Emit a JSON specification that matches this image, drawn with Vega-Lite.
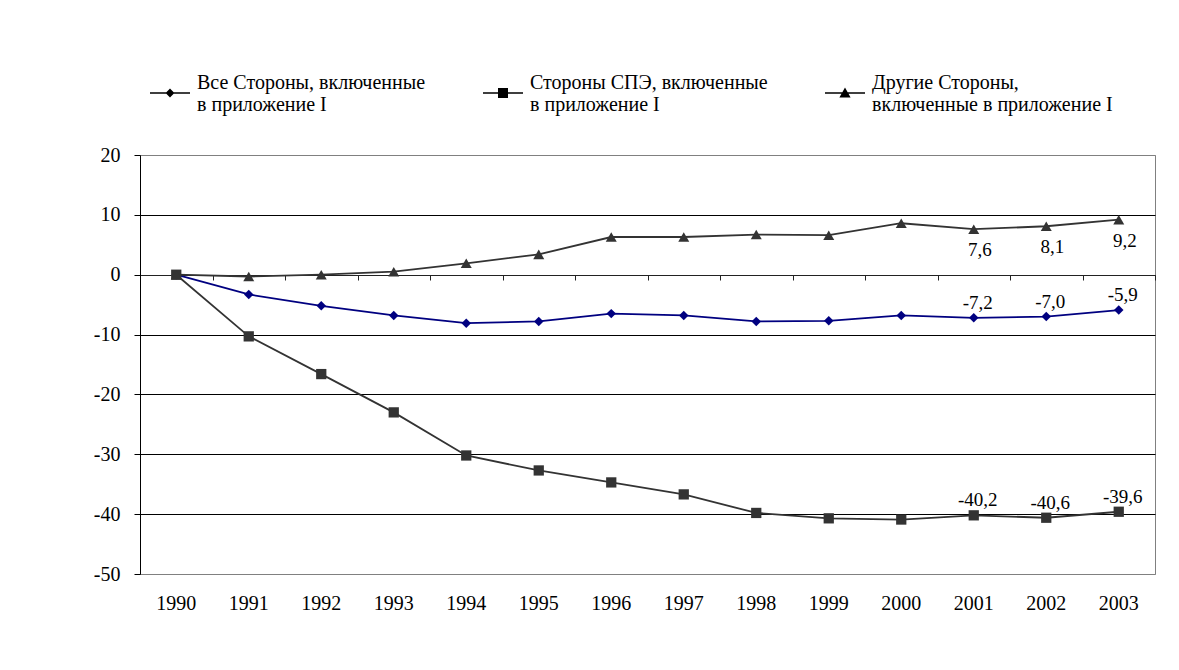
{
  "$schema": "https://vega.github.io/schema/vega-lite/v6.json",
  "width": 1015,
  "height": 419,
  "autosize": {"type": "none"},
  "padding": {"left": 140, "top": 155, "right": 24, "bottom": 96},
  "background": "white",
  "config": {
    "font": "Liberation Serif",
    "view": {"stroke": "#808080", "strokeWidth": 1},
    "axis": {"labelFont": "Liberation Serif"},
    "legend": {
      "orient": "none",
      "legendX": 10,
      "legendY": -92,
      "direction": "horizontal",
      "columns": 3,
      "columnPadding": 57,
      "symbolSize": 1600,
      "symbolStrokeWidth": 0,
      "labelFont": "Liberation Serif",
      "labelFontSize": 20,
      "labelColor": "#000",
      "labelLimit": 400,
      "labelOffset": 7,
      "labelBaseline": "middle",
      "padding": 0
    }
  },
  "data": {
    "values": [
      {"year": 1990, "series": "Все Стороны, включенные в приложение I", "value": 0},
      {"year": 1991, "series": "Все Стороны, включенные в приложение I", "value": -3.3},
      {"year": 1992, "series": "Все Стороны, включенные в приложение I", "value": -5.2},
      {"year": 1993, "series": "Все Стороны, включенные в приложение I", "value": -6.8},
      {"year": 1994, "series": "Все Стороны, включенные в приложение I", "value": -8.1},
      {"year": 1995, "series": "Все Стороны, включенные в приложение I", "value": -7.8},
      {"year": 1996, "series": "Все Стороны, включенные в приложение I", "value": -6.5},
      {"year": 1997, "series": "Все Стороны, включенные в приложение I", "value": -6.8},
      {"year": 1998, "series": "Все Стороны, включенные в приложение I", "value": -7.8},
      {"year": 1999, "series": "Все Стороны, включенные в приложение I", "value": -7.7},
      {"year": 2000, "series": "Все Стороны, включенные в приложение I", "value": -6.8},
      {"year": 2001, "series": "Все Стороны, включенные в приложение I", "value": -7.2, "label": "-7,2"},
      {"year": 2002, "series": "Все Стороны, включенные в приложение I", "value": -7.0, "label": "-7,0"},
      {"year": 2003, "series": "Все Стороны, включенные в приложение I", "value": -5.9, "label": "-5,9"},
      {"year": 1990, "series": "Стороны СПЭ, включенные в приложение I", "value": 0},
      {"year": 1991, "series": "Стороны СПЭ, включенные в приложение I", "value": -10.3},
      {"year": 1992, "series": "Стороны СПЭ, включенные в приложение I", "value": -16.6},
      {"year": 1993, "series": "Стороны СПЭ, включенные в приложение I", "value": -23.0},
      {"year": 1994, "series": "Стороны СПЭ, включенные в приложение I", "value": -30.2},
      {"year": 1995, "series": "Стороны СПЭ, включенные в приложение I", "value": -32.7},
      {"year": 1996, "series": "Стороны СПЭ, включенные в приложение I", "value": -34.7},
      {"year": 1997, "series": "Стороны СПЭ, включенные в приложение I", "value": -36.7},
      {"year": 1998, "series": "Стороны СПЭ, включенные в приложение I", "value": -39.8},
      {"year": 1999, "series": "Стороны СПЭ, включенные в приложение I", "value": -40.7},
      {"year": 2000, "series": "Стороны СПЭ, включенные в приложение I", "value": -40.9},
      {"year": 2001, "series": "Стороны СПЭ, включенные в приложение I", "value": -40.2, "label": "-40,2"},
      {"year": 2002, "series": "Стороны СПЭ, включенные в приложение I", "value": -40.6, "label": "-40,6"},
      {"year": 2003, "series": "Стороны СПЭ, включенные в приложение I", "value": -39.6, "label": "-39,6"},
      {"year": 1990, "series": "Другие Стороны, включенные в приложение I", "value": 0},
      {"year": 1991, "series": "Другие Стороны, включенные в приложение I", "value": -0.3},
      {"year": 1992, "series": "Другие Стороны, включенные в приложение I", "value": 0.0},
      {"year": 1993, "series": "Другие Стороны, включенные в приложение I", "value": 0.5},
      {"year": 1994, "series": "Другие Стороны, включенные в приложение I", "value": 1.9},
      {"year": 1995, "series": "Другие Стороны, включенные в приложение I", "value": 3.4},
      {"year": 1996, "series": "Другие Стороны, включенные в приложение I", "value": 6.3},
      {"year": 1997, "series": "Другие Стороны, включенные в приложение I", "value": 6.3},
      {"year": 1998, "series": "Другие Стороны, включенные в приложение I", "value": 6.7},
      {"year": 1999, "series": "Другие Стороны, включенные в приложение I", "value": 6.6},
      {"year": 2000, "series": "Другие Стороны, включенные в приложение I", "value": 8.6},
      {"year": 2001, "series": "Другие Стороны, включенные в приложение I", "value": 7.6, "label": "7,6"},
      {"year": 2002, "series": "Другие Стороны, включенные в приложение I", "value": 8.1, "label": "8,1"},
      {"year": 2003, "series": "Другие Стороны, включенные в приложение I", "value": 9.2, "label": "9,2"}
    ]
  },
  "layer": [
    {
      "mark": {"type": "line", "strokeWidth": 1.8},
      "encoding": {
        "x": {
          "field": "year", "type": "ordinal",
          "scale": {"type": "band", "paddingInner": 0, "paddingOuter": 0},
          "axis": {
            "orient": "bottom", "offset": -299, "labels": false, "ticks": true,
            "tickBand": "extent", "tickSize": 5, "tickColor": "#222", "tickWidth": 1,
            "domain": true, "domainColor": "#222", "domainWidth": 1,
            "grid": false, "title": null
          }
        },
        "y": {
          "field": "value", "type": "quantitative",
          "scale": {"domain": [-50, 20], "nice": false, "zero": false},
          "axis": {
            "values": [-50, -40, -30, -20, -10, 0, 10, 20],
            "labelExpr": "replace(datum.label, '\u2212', '-')",
            "grid": true,
            "gridColor": {"condition": {"test": "datum.value == 20 || datum.value == -50", "value": "#808080"}, "value": "#000000"},
            "gridWidth": 1,
            "domainColor": "#000", "tickColor": "#000", "tickSize": 6,
            "labelPadding": 14, "labelFontSize": 20, "labelColor": "#000",
            "labelFont": "Liberation Serif", "title": null
          }
        },
        "color": {
          "field": "series", "type": "nominal",
          "scale": {
            "domain": ["Все Стороны, включенные в приложение I", "Стороны СПЭ, включенные в приложение I", "Другие Стороны, включенные в приложение I"],
            "range": ["#000080", "#333333", "#333333"]
          },
          "legend": null
        }
      }
    },
    {
      "mark": {"type": "point", "filled": true, "opacity": 1},
      "encoding": {
        "x": {
          "field": "year", "type": "ordinal",
          "axis": {
            "orient": "bottom", "labels": true, "ticks": false, "domain": false,
            "grid": false, "labelFontSize": 20, "labelPadding": 19, "labelColor": "#000",
            "labelFont": "Liberation Serif", "labelAngle": 0, "title": null
          }
        },
        "y": {"field": "value", "type": "quantitative"},
        "color": {"field": "series", "type": "nominal", "legend": null},
        "shape": {
          "field": "series", "type": "nominal",
          "scale": {
            "domain": ["Все Стороны, включенные в приложение I", "Стороны СПЭ, включенные в приложение I", "Другие Стороны, включенные в приложение I"],
            "range": ["diamond", "square", "triangle-up"]
          },
          "legend": null
        },
        "size": {
          "field": "series", "type": "ordinal",
          "scale": {
            "domain": ["Все Стороны, включенные в приложение I", "Стороны СПЭ, включенные в приложение I", "Другие Стороны, включенные в приложение I"],
            "range": [90, 121, 130]
          },
          "legend": null
        }
      }
    },
    {
      "transform": [{"filter": "isValid(datum.label) && datum.series != 'Другие Стороны, включенные в приложение I'"}],
      "mark": {"type": "text", "dy": -15, "dx": 4, "fontSize": 19, "font": "Liberation Serif", "color": "#000", "baseline": "middle"},
      "encoding": {
        "x": {"field": "year", "type": "ordinal", "axis": null},
        "y": {"field": "value", "type": "quantitative"},
        "text": {"field": "label"}
      }
    },
    {
      "transform": [{"filter": "isValid(datum.label) && datum.series == 'Другие Стороны, включенные в приложение I'"}],
      "mark": {"type": "text", "dy": 21, "dx": 6, "fontSize": 19, "font": "Liberation Serif", "color": "#000", "baseline": "middle"},
      "encoding": {
        "x": {"field": "year", "type": "ordinal", "axis": null},
        "y": {"field": "value", "type": "quantitative"},
        "text": {"field": "label"}
      }
    },
    {
      "mark": {"type": "point", "filled": true, "opacity": 1, "clip": true, "size": 1600},
      "encoding": {
        "y": {"datum": 1000},
        "fill": {
          "field": "series", "type": "nominal",
          "scale": {
            "domain": ["Все Стороны, включенные в приложение I", "Стороны СПЭ, включенные в приложение I", "Другие Стороны, включенные в приложение I"],
            "range": ["#000080", "#333333", "#333333"]
          },
          "legend": {
            "title": null,
            "labelExpr": "datum.value == 'Другие Стороны, включенные в приложение I' ? ['Другие Стороны,', 'включенные в приложение I'] : [replace(datum.value, ' в приложение I', ''), 'в приложение I']"
          }
        },
        "shape": {
          "field": "series", "type": "nominal",
          "scale": {
            "domain": ["Все Стороны, включенные в приложение I", "Стороны СПЭ, включенные в приложение I", "Другие Стороны, включенные в приложение I"],
            "range": [
              "M-1,0.46H1V0.54H-1ZM0,0.28L0.22,0.5L0,0.72L-0.22,0.5Z",
              "M-1,0.46H1V0.54H-1ZM-0.25,0.25H0.25V0.75H-0.25Z",
              "M-1,0.46H1V0.54H-1ZM0,0.23L0.28,0.72H-0.28Z"
            ]
          },
          "legend": {
            "title": null,
            "labelExpr": "datum.value == 'Другие Стороны, включенные в приложение I' ? ['Другие Стороны,', 'включенные в приложение I'] : [replace(datum.value, ' в приложение I', ''), 'в приложение I']"
          }
        }
      }
    }
  ],
  "resolve": {"axis": {"x": "independent"}, "scale": {"shape": "independent"}}
}
